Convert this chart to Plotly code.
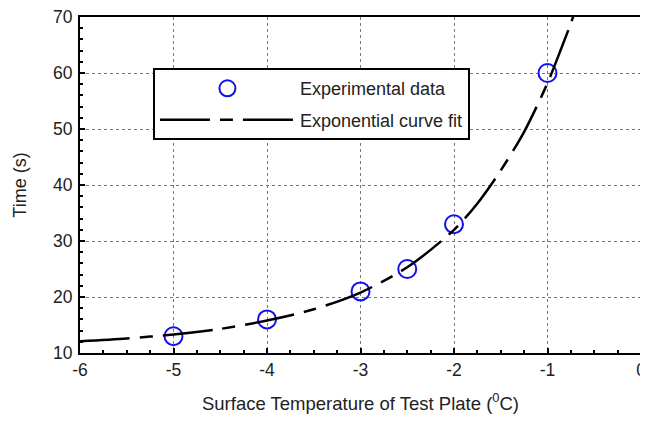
import plotly.graph_objects as go

# Experimental data
exp_temp = [-5, -4, -3, -2.5, -2, -1]
exp_time = [13, 16, 21, 25, 33, 60]

# Exponential curve fit
fit_temp = [-6, -5.5, -5, -4.5, -4, -3.5, -3, -2.5, -2, -1.75, -1.5, -1.25, -1, -0.85, -0.75, -0.7]
fit_time = [12.1, 12.6, 13.3, 14.3, 15.8, 17.8, 20.8, 25.3, 32.0, 36.7, 42.6, 49.5, 58.2, 64.5, 68.9, 71.3]

x_ticks = [-6, -5, -4, -3, -2, -1, 0]
y_ticks = [10, 20, 30, 40, 50, 60, 70]

fig = go.Figure()
fig.add_trace(go.Scatter(
    x=exp_temp, y=exp_time, mode="markers", name="Experimental data",
    legendgroup="a",
    marker=dict(symbol="circle-open", size=18, color="#1010ee", line=dict(width=2, color="#1010ee")),
    cliponaxis=False,
))
fig.add_trace(go.Scatter(
    x=fit_temp, y=fit_time, mode="lines", name="Exponential curve fit",
    legendgroup="b",
    line=dict(color="black", width=2.5, dash="50px,10px,13px,10px", shape="spline", smoothing=0.8),
))

font_family = "Liberation Sans, Arial, sans-serif"
axis_common = dict(
    showline=True, linecolor="black", linewidth=2, mirror=True,
    showgrid=True, gridcolor="#777777", griddash="dot", gridwidth=1,
    ticks="inside", ticklen=5, tickcolor="black", tickwidth=1.5,
    zeroline=False, automargin=False,
    ticklabeloverflow="allow",
    tickfont=dict(family=font_family, size=17.5, color="#222222"),
)
fig.update_xaxes(
    range=[-6, 0], tickvals=x_ticks, ticktext=[str(v) for v in x_ticks],
    minor=dict(dtick=0.25, ticks="inside", ticklen=3, tickcolor="black", showgrid=False),
    title=dict(text="Surface Temperature of Test Plate (<sup>0</sup>C)", standoff=18,
               font=dict(family=font_family, size=18.5, color="#222222")),
    **axis_common,
)
fig.update_yaxes(
    range=[10, 70], tickvals=y_ticks, ticktext=[str(v) for v in y_ticks],
    minor=dict(dtick=2, ticks="inside", ticklen=3, tickcolor="black", showgrid=False),
    ticklabelstandoff=2,
    title=dict(text="Time (s)", standoff=22,
               font=dict(family=font_family, size=18, color="#222222")),
    **axis_common,
)
fig.update_layout(
    width=648, height=424,
    margin=dict(l=72, r=15, t=9, b=79),
    plot_bgcolor="white", paper_bgcolor="white",
    showlegend=True,
    legend=dict(
        x=0.13, y=0.848, xanchor="left", yanchor="top",
        bgcolor="white", bordercolor="black", borderwidth=2,
        font=dict(family=font_family, size=18, color="#222222"),
        itemwidth=135,
        tracegroupgap=5,
        traceorder="grouped",
    ),
)
fig.write_html("out.html")
